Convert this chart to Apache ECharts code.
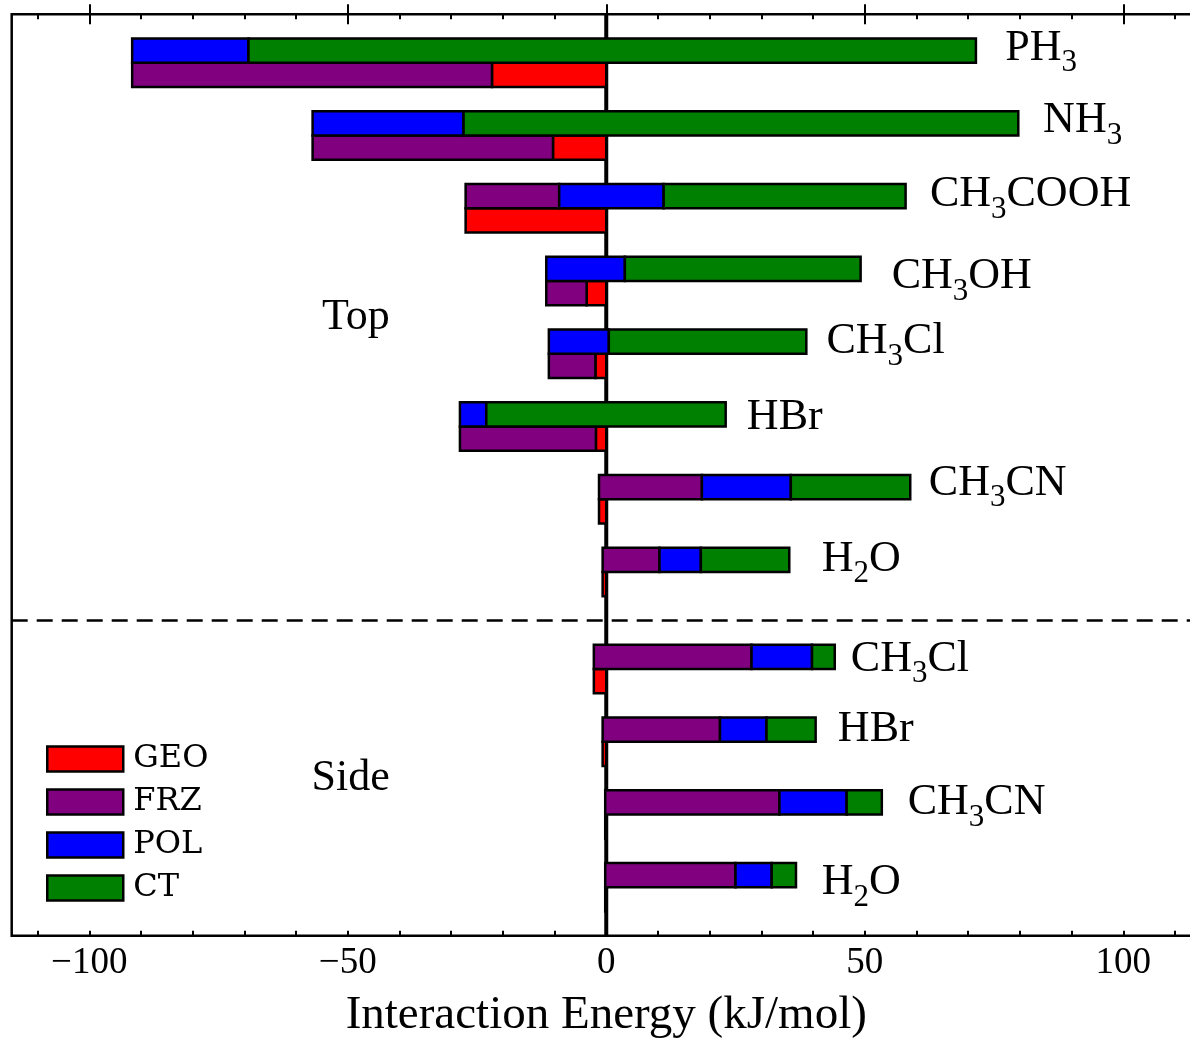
<!DOCTYPE html>
<html>
<head>
<meta charset="utf-8">
<script src="https://cdn.jsdelivr.net/npm/echarts@6/dist/echarts.min.js"></script>
<style>
html,body{margin:0;padding:0;background:#fff;}
#chart{width:1190px;height:1040px;}
</style>
</head>
<body>
<div id="chart"></div>
<script>
// ---------------- data ----------------
const systems  = ['PH_3', 'NH_3', 'CH_3COOH', 'CH_3OH', 'CH_3Cl', 'HBr', 'CH_3CN', 'H_2O',
                  'CH_3Cl', 'HBr', 'CH_3CN', 'H_2O'];
const sections = ['Top', 'Top', 'Top', 'Top', 'Top', 'Top', 'Top', 'Top',
                  'Side', 'Side', 'Side', 'Side'];
// energy components (kJ/mol), drawn as a waterfall starting at 0
const geo = [-22.1, -10.3, -27.2, -3.8, -2.1, -2.0, -1.4, -0.7, -2.4, -0.7, -0.2, -0.2];
const frz = [-69.6, -46.5, 18.1, -7.8, -9.0, -26.3, 19.9, 11.0, 30.5, 22.7, 33.7, 25.2];
const pol = [22.5, 29.2, 20.2, 15.2, 11.6, 5.1, 17.2, 8.0, 11.7, 9.0, 13.0, 7.0];
const ct  = [140.7, 107.3, 46.8, 45.6, 38.2, 46.3, 23.1, 17.1, 4.4, 9.5, 6.8, 4.7];
const components = ['GEO', 'FRZ', 'POL', 'CT'];

const xMajorTicks = [-100, -50, 0, 50, 100];
const xMinorTicks = [-110, -100, -90, -80, -70, -60, -50, -40, -30, -20, -10, 0,
                     10, 20, 30, 40, 50, 60, 70, 80, 90, 100, 110];
const xName = 'Interaction Energy (kJ/mol)';

// annotation anchors (data units: x in kJ/mol, y in bar slots)
const labelX = [77.2, 84.5, 62.6, 55.2, 42.6, 27.2, 62.4, 41.7, 47.3, 44.8, 58.3, 41.7];
const labelY = [1.39, 4.38, 7.44, 10.83, 13.49, 16.61, 19.33, 22.47, 26.59, 29.51, 32.52, 35.82];
const sectionNames  = ['Top', 'Side'];
const sectionLabelX = [-55.0, -57.0];
const sectionLabelY = [12.49, 31.5];

// ---------------- styling / layout ----------------
const colors = {GEO: '#ff0000', FRZ: '#800080', POL: '#0000ff', CT: '#008000'};
const SERIF = '"Liberation Serif", serif';
const MAIN_FONT = '44px "Liberation Serif"';
const SUB_FONT = '31px "Liberation Serif"';
const NSLOT = 38;       // bar slots along y
const DASH_AT = 25;     // slot boundary between Top and Side

// build waterfall segments
const segs = {GEO: [], FRZ: [], POL: [], CT: []};
systems.forEach((s, i) => {
  const upper = 1 + 3 * i + (sections[i] === 'Side' ? 1 : 0);
  const lower = upper + 1;
  const vals = [geo[i], frz[i], pol[i], ct[i]];
  let row = lower;
  let cur = 0;
  vals.forEach((v, k) => {
    if (k > 0 && Math.sign(v) !== Math.sign(vals[k - 1])) row = upper;
    segs[components[k]].push([cur, cur + v, row]);
    cur += v;
  });
});

const mctx = document.createElement('canvas').getContext('2d');
function textWidth(t, font) { mctx.font = font; return mctx.measureText(t).width; }

function richLabel(markup, px, py) {
  const parts = markup.split(/_(\d)/);
  const children = [];
  let x = px;
  parts.forEach((p, j) => {
    if (!p) return;
    const sub = j % 2 === 1;
    const font = sub ? SUB_FONT : MAIN_FONT;
    children.push({
      type: 'text',
      style: {x: x, y: py + (sub ? 15 : 0), text: p, font: font, fill: '#000',
              align: 'left', verticalAlign: 'middle'}
    });
    x += textWidth(p, font);
  });
  return {type: 'group', children: children};
}

const allLabels = systems.map((s, i) => ({text: s, x: labelX[i], y: labelY[i]}))
  .concat(sectionNames.map((s, i) => ({text: s, x: sectionLabelX[i], y: sectionLabelY[i]})));

function renderBar(params, api) {
  const s = api.value(0), e = api.value(1), slot = api.value(2);
  const p0 = api.coord([s, slot]);
  const p1 = api.coord([e, slot + 1]);
  return {
    type: 'rect',
    shape: {x: Math.min(p0[0], p1[0]), y: Math.min(p0[1], p1[1]),
            width: Math.abs(p1[0] - p0[0]), height: Math.abs(p1[1] - p0[1])},
    style: {fill: api.visual('color'), stroke: '#000', lineWidth: 2.5}
  };
}

const barSeries = components.map(c => ({
  name: c,
  type: 'custom',
  z: 3,
  itemStyle: {color: colors[c], borderColor: '#000', borderWidth: 2.5},
  color: colors[c],
  encode: {x: [0, 1], y: 2},
  data: segs[c],
  renderItem: renderBar
}));

const guideSeries = {
  type: 'custom',
  name: 'guides',
  z: 2,
  data: [[0, 0]],
  encode: {x: 0, y: 1},
  renderItem: function (params, api) {
    const cs = params.coordSys;
    const x0 = api.coord([0, 0])[0];
    const yd = api.coord([0, DASH_AT])[1];
    return {
      type: 'group',
      children: [
        {type: 'line', shape: {x1: x0, y1: cs.y, x2: x0, y2: cs.y + cs.height},
         style: {stroke: '#000', lineWidth: 4}},
        {type: 'line', shape: {x1: cs.x, y1: yd, x2: cs.x + cs.width, y2: yd},
         style: {stroke: '#000', lineWidth: 2.5, lineDash: [16, 9]}}
      ]
    };
  }
};

const labelSeries = {
  type: 'custom',
  name: 'labels',
  z: 4,
  data: allLabels.map(l => [l.x, l.y]),
  encode: {x: 0, y: 1},
  renderItem: function (params, api) {
    const l = allLabels[params.dataIndex];
    const p = api.coord([l.x, l.y]);
    return richLabel(l.text, p[0], p[1]);
  }
};

function fmt(v) { return v < 0 ? '\u2212' + Math.abs(v) : String(v); }

function tickAxis(position, values, len, withLabels) {
  const ax = {
    type: 'value', position: position, min: -115, max: 115,
    axisLine: {show: false},
    splitLine: {show: false},
    axisTick: {show: true, inside: true, length: len, customValues: values,
               lineStyle: {color: '#000', width: 2}},
    axisLabel: {show: false}
  };
  if (withLabels) {
    ax.axisLabel = {show: true, customValues: values, formatter: fmt, margin: 9,
                    fontFamily: SERIF, fontSize: 37, color: '#000'};
    ax.name = xName;
    ax.nameLocation = 'middle';
    ax.nameGap = 56;
    ax.nameMoveOverlap = false;
    ax.nameTextStyle = {fontFamily: SERIF, fontSize: 47, color: '#000'};
  }
  return ax;
}

const chart = echarts.init(document.getElementById('chart'), null, {renderer: 'canvas'});
chart.setOption({
  animation: false,
  backgroundColor: '#fff',
  grid: {left: 11.7, top: 14.3, right: -10.8, bottom: 104.3, show: true,
         borderColor: '#000', borderWidth: 2.5, backgroundColor: 'transparent',
         containLabel: false, outerBoundsMode: 'none'},
  legend: {
    orient: 'vertical', left: 46, top: 743, padding: 0,
    itemWidth: 76, itemHeight: 25, itemGap: 11, icon: 'rect',
    data: components, selectedMode: false,
    itemStyle: {borderColor: '#000', borderWidth: 2.5},
    textStyle: {fontFamily: '"DejaVu Serif", serif', fontSize: 32, color: '#000',
                lineHeight: 25, padding: [0, 0, 0, 5]}
  },
  xAxis: [
    tickAxis('bottom', xMajorTicks, 10, true),
    tickAxis('bottom', xMinorTicks, 5, false),
    tickAxis('top', xMajorTicks, 10, false),
    tickAxis('top', xMinorTicks, 5, false)
  ],
  yAxis: {type: 'value', min: 0, max: NSLOT, inverse: true, show: false,
          splitLine: {show: false}},
  series: [guideSeries].concat(barSeries, [labelSeries])
});
</script>
</body>
</html>
